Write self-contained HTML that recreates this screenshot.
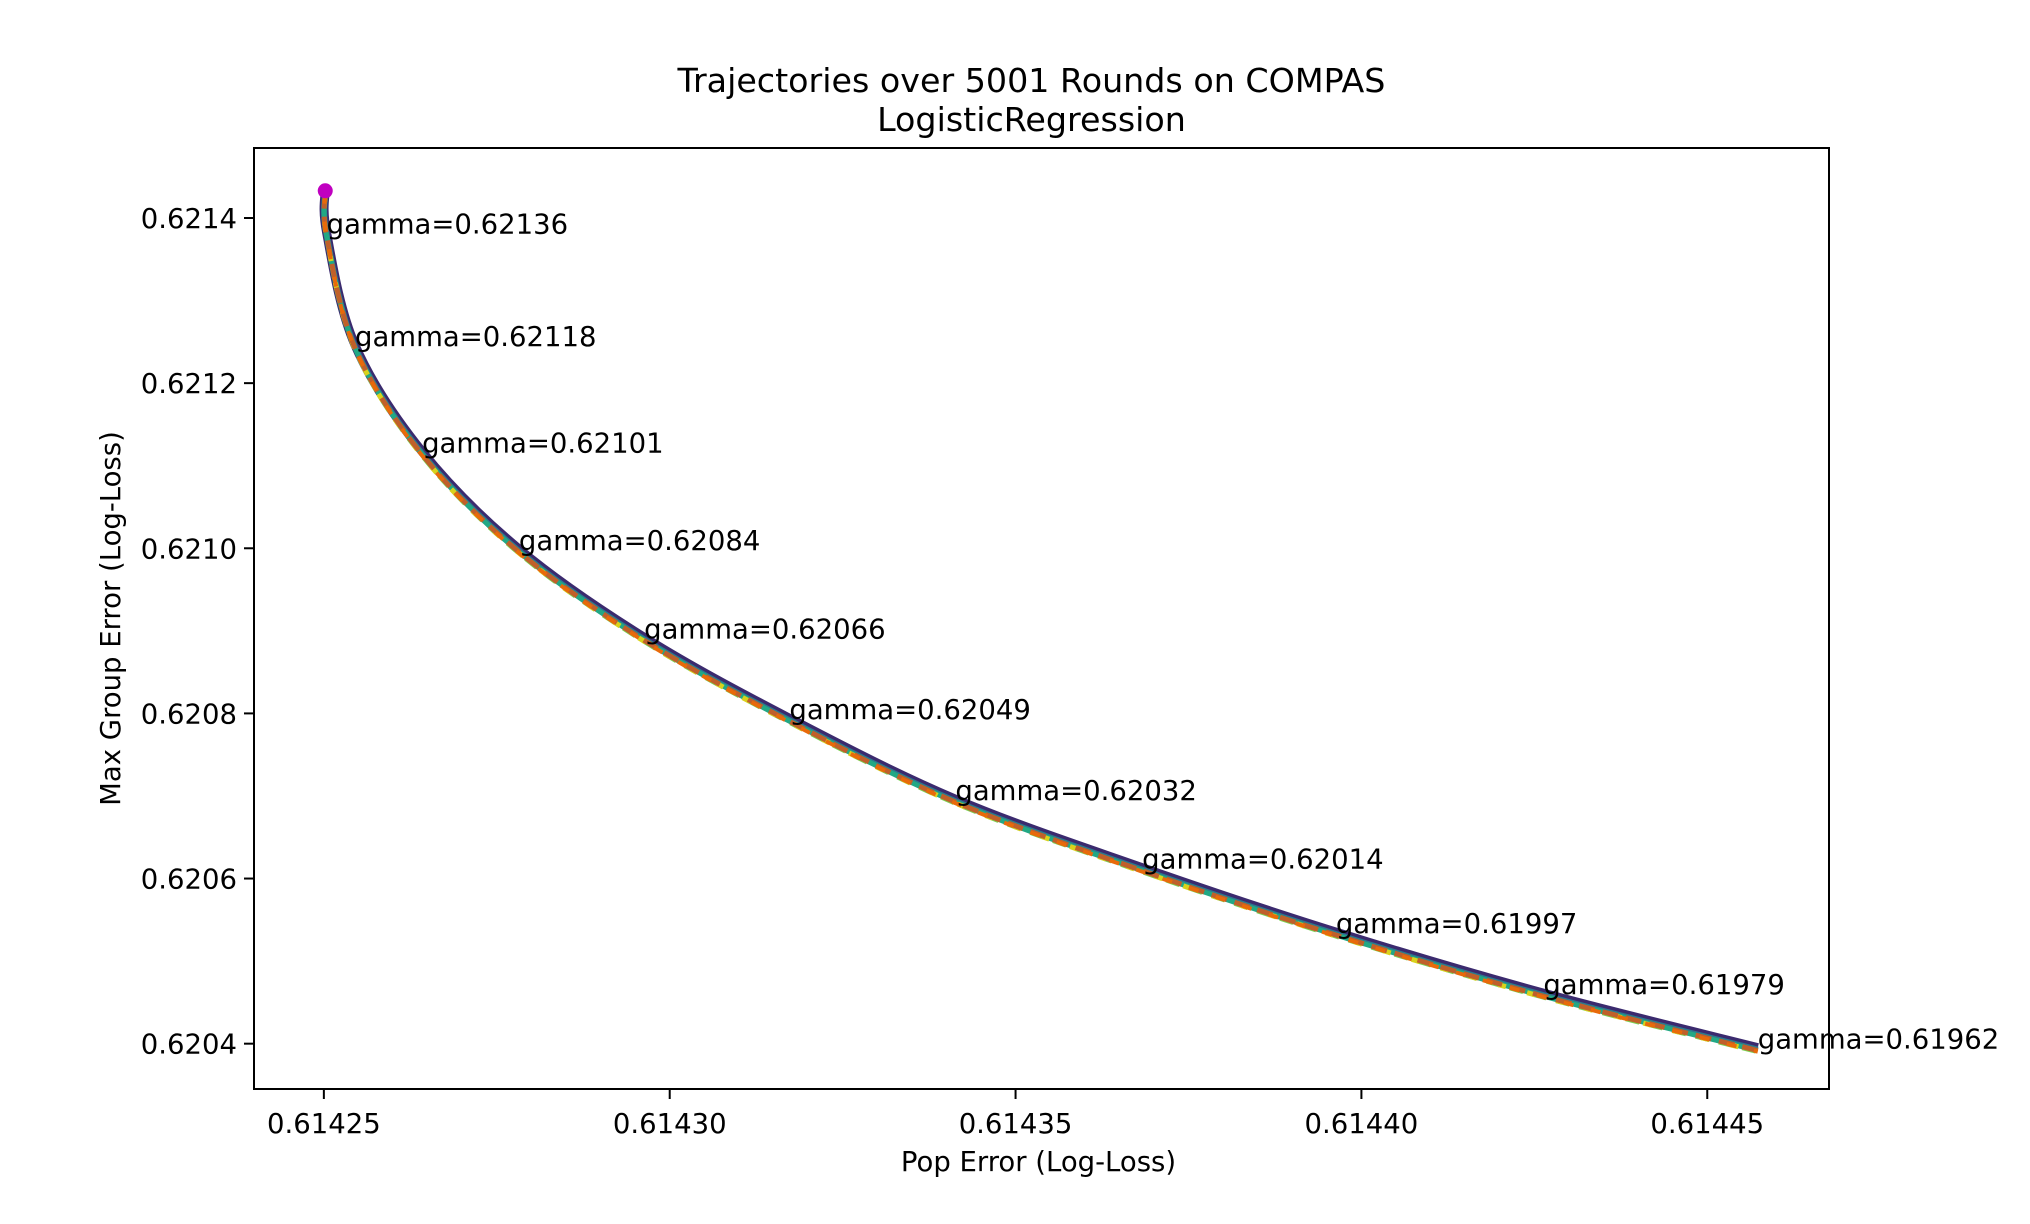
<!DOCTYPE html>
<html><head><meta charset="utf-8"><style>
body{margin:0;background:#fff;}
svg{display:block;font-family:"DejaVu Sans","Liberation Sans",sans-serif;}
</style></head><body>
<svg id="chart" width="2030" height="1224" viewBox="0 0 2030 1224" xmlns="http://www.w3.org/2000/svg">
<rect width="2030" height="1224" fill="#fff"/>
<g id="plot"></g>
</svg>
<script>
const xTicks = [0.61425, 0.61430, 0.61435, 0.61440, 0.61445];
const xTickLabels = ["0.61425", "0.61430", "0.61435", "0.61440", "0.61445"];
const yTicks = [0.6204, 0.6206, 0.6208, 0.6210, 0.6212, 0.6214];
const yTickLabels = ["0.6204", "0.6206", "0.6208", "0.6210", "0.6212", "0.6214"];
const popError = [0.6142504, 0.6142545, 0.6142642, 0.6142782, 0.6142963, 0.6143173, 0.6143413, 0.6143683, 0.6143963, 0.6144263, 0.6144573];
const maxGroupError = [0.621381, 0.621245, 0.621116, 0.620998, 0.620891, 0.620793, 0.620695, 0.620612, 0.620534, 0.620460, 0.620394];
const gammaLabels = ["0.62136", "0.62118", "0.62101", "0.62084", "0.62066", "0.62049", "0.62032", "0.62014", "0.61997", "0.61979", "0.61962"];
const startPoint = [0.6142502, 0.621433];

const L = 254, R = 1829, T = 148, B = 1089;
const xMin = 0.6142399, xMax = 0.6144676, yMin = 0.6203451, yMax = 0.6214848;
const sx = v => L + (v - xMin) / (xMax - xMin) * (R - L);
const sy = v => B - (v - yMin) / (yMax - yMin) * (B - T);
const NS = "http://www.w3.org/2000/svg";
const g = document.getElementById('plot');
function mk(tag, attrs, parent) {
  const e = document.createElementNS(NS, tag);
  for (const k in attrs) e.setAttribute(k, attrs[k]);
  (parent || g).appendChild(e);
  return e;
}
const pts = [[sx(startPoint[0]), sy(startPoint[1])]];
for (let i = 0; i < popError.length; i++) pts.push([sx(popError[i]), sy(maxGroupError[i])]);
function curve(p, off) {
  let d = `M${p[0][0]},${p[0][1] + off}`;
  for (let i = 0; i < p.length - 1; i++) {
    const p0 = p[Math.max(i - 1, 0)], p1 = p[i], p2 = p[i + 1], p3 = p[Math.min(i + 2, p.length - 1)];
    const c1 = [p1[0] + (p2[0] - p0[0]) / 6, p1[1] + (p2[1] - p0[1]) / 6];
    const c2 = [p2[0] - (p3[0] - p1[0]) / 6, p2[1] - (p3[1] - p1[1]) / 6];
    d += ` C${c1[0]},${c1[1] + off} ${c2[0]},${c2[1] + off} ${p2[0]},${p2[1] + off}`;
  }
  return d;
}
const styles = [
  {c: "#3b2a6e", w: 9, off: -1, dash: null},
  {c: "#2a788e", w: 6, off: 1, dash: null},
  {c: "#22a884", w: 5, off: 2, dash: null},
  {c: "#7ad151", w: 5, off: 3, dash: "14 10"},
  {c: "#d9d21c", w: 5, off: 3, dash: "8 22"},
  {c: "#c0602a", w: 5, off: 2, dash: "16 8"},
  {c: "#e86a0a", w: 4, off: 3, dash: "10 18"}
];
styles.forEach((s, i) => {
  const e = mk('path', {d: curve(pts, s.off), fill: "none", stroke: s.c, "stroke-width": s.w, "stroke-linecap": "butt"});
  if (s.dash) e.setAttribute('stroke-dasharray', s.dash);
  
  
});
const dot = mk('circle', {cx: pts[0][0], cy: pts[0][1], r: 7.5, fill: "#c000c0"});


for (let i = 0; i < popError.length; i++) {
  const t = mk('text', {x: sx(popError[i]), y: sy(maxGroupError[i]), "font-size": 27.5, fill: "#000"});
  t.textContent = "gamma=" + gammaLabels[i];
  
  
}
const fr = mk('rect', {x: L, y: T, width: R - L, height: B - T, fill: "none", stroke: "#000", "stroke-width": 2});


xTicks.forEach((v, i) => {
  const x = sx(v);
  const tk = mk('line', {x1: x, x2: x, y1: B, y2: B + 10, stroke: "#000", "stroke-width": 2});
  
  
  const t = mk('text', {x: x, y: B + 44, "font-size": 27.5, "text-anchor": "middle"});
  t.textContent = xTickLabels[i];
  
  
});
yTicks.forEach((v, i) => {
  const y = sy(v);
  const tk = mk('line', {x1: L - 10, x2: L, y1: y, y2: y, stroke: "#000", "stroke-width": 2});
  
  
  const t = mk('text', {x: L - 17, y: y + 10, "font-size": 27.5, "text-anchor": "end"});
  t.textContent = yTickLabels[i];
  
  
});
const cx = (L + R) / 2 - 10;
const t1 = mk('text', {x: cx, y: 92, "font-size": 33.3, "text-anchor": "middle"});
t1.textContent = "Trajectories over 5001 Rounds on COMPAS";


const t2 = mk('text', {x: cx, y: 131, "font-size": 33.3, "text-anchor": "middle"});
t2.textContent = "LogisticRegression";


const xl = mk('text', {x: (L + R) / 2 - 3, y: 1171, "font-size": 27.5, "text-anchor": "middle"});
xl.textContent = "Pop Error (Log-Loss)";


const yl = mk('text', {x: 0, y: 0, "font-size": 27.5, "text-anchor": "middle", transform: `translate(120,${(T + B) / 2}) rotate(-90)`});
yl.textContent = "Max Group Error (Log-Loss)";


</script>
</body></html>
